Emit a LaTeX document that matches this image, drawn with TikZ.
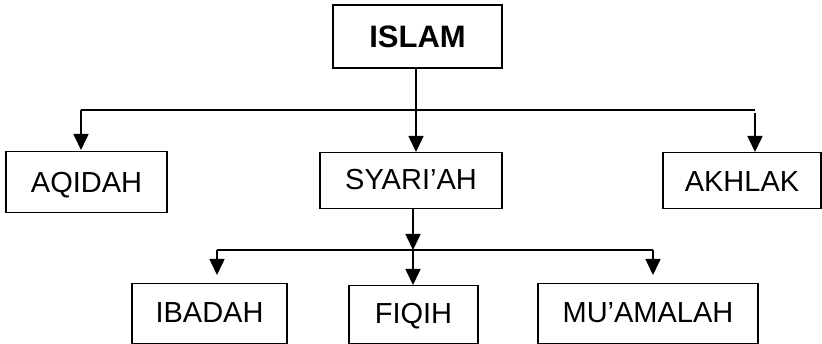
\documentclass[tikz,border=0pt]{standalone}
\usepackage{fontspec}
\setmainfont{Liberation Sans}
\usetikzlibrary{arrows.meta}
\begin{document}
\begin{tikzpicture}[x=1pt,y=-1pt,
  box/.style={draw, line width=1.5pt, inner xsep=0pt, inner ysep=0pt, anchor=north,
    font=\fontsize{29}{34}\selectfont},
  conn/.style={line width=1.6pt},
  arr/.style={conn, -{Triangle[width=15pt,length=16pt]}}]
\useasboundingbox (0,0) rectangle (822,344);
% boxes
\node[box, line width=1.9pt, minimum width=169pt, text height=43pt, text depth=20pt,
  font=\fontsize{31}{36}\selectfont\bfseries] (islam) at (417.5,4) {ISLAM};
\node[box, minimum width=161pt, text height=41pt, text depth=20pt] (aqidah) at (86.5,151) {AQIDAH};
\node[box, minimum width=182pt, text height=37pt, text depth=19pt] (syariah) at (411,152) {SYARI’AH};
\node[box, minimum width=158pt, text height=39pt, text depth=17pt] (akhlak) at (742,152) {AKHLAK};
\node[box, minimum width=155pt, text height=39pt, text depth=21pt] (ibadah) at (209.5,283) {IBADAH};
\node[box, minimum width=129pt, text height=38pt, text depth=20pt] (fiqih) at (413.5,285) {FIQIH};
\node[box, minimum width=220pt, text height=39pt, text depth=21pt] (muamalah) at (648,283) {MU’AMALAH};
% upper connectors
\coordinate (hl) at (81,110);
\coordinate (hm) at (416,110);
\coordinate (hr) at (755,110);
\coordinate (akstart) at (755,113);
\draw[conn] (hl) -- (hr);
\draw[arr] (islam.south -| hm) -- (hm |- syariah.north);
\draw[arr, shorten >=1pt] (hl) -- (hl |- aqidah.north);
\draw[arr] (akstart) -- (akstart |- akhlak.north);
% lower connectors
\coordinate (bl) at (217,250);
\coordinate (bm) at (413,250);
\coordinate (br) at (653,250);
\draw[conn] (bl) -- (br);
\draw[arr] (syariah.south -| bm) -- (bm);
\draw[arr] (bm) -- (bm |- fiqih.north);
\draw[arr, shorten >=8pt] (bl) -- (bl |- ibadah.north);
\draw[arr, shorten >=8pt] (br) -- (br |- muamalah.north);
\end{tikzpicture}
\end{document}
